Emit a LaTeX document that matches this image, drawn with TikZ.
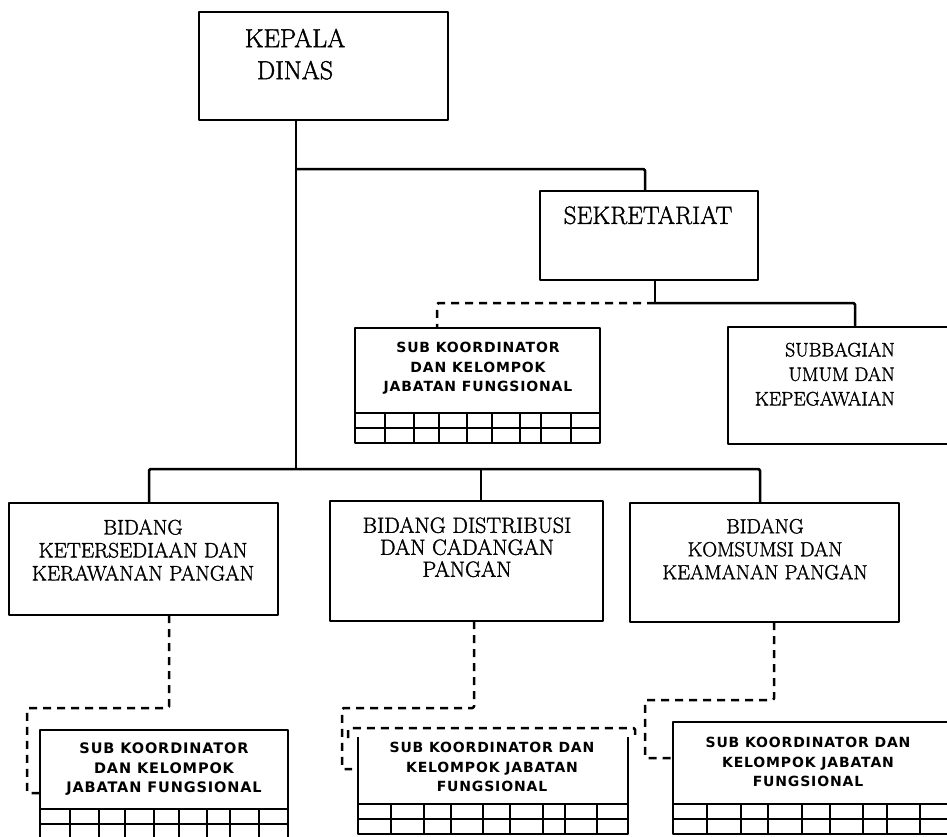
\documentclass[tikz,border=0pt]{standalone}
\usepackage{fontspec}
\newfontfamily\subfont[LetterSpace=6]{DejaVu Sans}
\newfontfamily\mainf[FakeBold=1.5]{Latin Modern Roman}
\usetikzlibrary{calc}
\begin{document}
\begin{tikzpicture}[x=1pt,y=-1pt,line join=round,
  box/.style 2 args={draw,line width=2.6pt,rectangle,inner sep=0pt,outer sep=0pt,anchor=north west,minimum width=#1,minimum height=#2},
  mtext/.style={align=center,inner sep=0pt,text depth=0pt,font=\mainf\fontsize{21}{23}\selectfont},
  stext/.style={align=center,inner sep=0pt,text depth=0pt,font=\subfont\bfseries\fontsize{14}{19.5}\selectfont},
  conn/.style={line width=2.5pt,rounded corners=1.5pt},
  dconn/.style={conn,dash pattern=on 8pt off 6pt},
  gridline/.style={line width=2.4pt}]
\useasboundingbox (0,0) rectangle (947,836);

% boxes and texts
\node[box={249}{108}] (kep) at (199,12) {};
\node[mtext,font=\mainf\fontsize{26}{32}\selectfont] (kept) at (295,54) {KEPALA\\DINAS};
\node[box={218}{89}] (sek) at (540,191) {};
\node[mtext,font=\mainf\fontsize{25}{26}\selectfont] (sekt) at (648,215) {SEKRETARIAT};
\node[box={245}{115}] (sk1) at (355,328) {};
\node[stext] (sk1t) at (478,367) {SUB KOORDINATOR\\DAN KELOMPOK\\JABATAN FUNGSIONAL};
\node[box={232}{117}] (sb) at (728,327) {};
\node[mtext,align=right,anchor=east,font=\mainf\fontsize{19.5}{24.5}\selectfont] (sbt) at (895,374) {SUBBAGIAN\\UMUM DAN\\KEPEGAWAIAN};
\node[box={269}{112}] (b1) at (9,503) {};
\node[mtext] (b1t) at (143,550) {BIDANG\\KETERSEDIAAN DAN\\KERAWANAN PANGAN};
\node[box={273}{120}] (b2) at (330,501) {};
\node[mtext,font=\mainf\fontsize{22}{22}\selectfont] (b2t) at (467,547) {BIDANG DISTRIBUSI\\DAN CADANGAN\\PANGAN};
\node[box={269}{119}] (b3) at (630,503) {};
\node[mtext,font=\mainf\fontsize{20.5}{23}\selectfont] (b3t) at (765,549) {BIDANG\\KOMSUMSI DAN\\KEAMANAN PANGAN};
\node[box={248}{115}] (lb) at (40,730) {};
\node[stext,font=\subfont\bfseries\fontsize{14.5}{19.5}\selectfont] (lbt) at (164,768) {SUB KOORDINATOR\\DAN KELOMPOK\\JABATAN FUNGSIONAL};
\node[inner sep=0pt,outer sep=0pt,minimum width=270pt,minimum height=97pt,anchor=north west] (mb) at (358,737) {};
\draw[line width=2.6pt] (mb.north west) |- (mb.south east) -- (mb.north east);
\node[stext] (mbt) at (492,767) {SUB KOORDINATOR DAN\\KELOMPOK JABATAN\\FUNGSIONAL};
\node[box={287}{112}] (rb) at (673,722) {};
\node[stext] (rbt) at (808,762) {SUB KOORDINATOR DAN\\KELOMPOK JABATAN\\FUNGSIONAL};

% grids
\foreach \yy in {413,428} \draw[gridline] (355,\yy) -- (600,\yy);
\foreach \xx in {385,414,439,467,492,520,541,571} \draw[gridline] (\xx,413) -- (\xx,443);
\foreach \yy in {809,824} \draw[gridline] (40,\yy) -- (288,\yy);
\foreach \xx in {70,99,125,154,179,207,230,259} \draw[gridline] (\xx,809) -- (\xx,845);
\foreach \yy in {804,819} \draw[gridline] (358,\yy) -- (628,\yy);
\foreach \xx in {391,424,451,483,510,543,565,597} \draw[gridline] (\xx,804) -- (\xx,834);
\foreach \yy in {804,819} \draw[gridline] (673,\yy) -- (960,\yy);
\foreach \xx in {707,741,768,802,830,863,887,920} \draw[gridline] (\xx,804) -- (\xx,834);

% junctions
\coordinate (jS) at (296,169);
\coordinate (busM) at (296,469);
\coordinate (busL) at (149,469);
\coordinate (busR) at (760,469);
\coordinate (jSek) at (655,303);
\coordinate (d1) at (27,708);
\coordinate (d2) at (342,708);
\coordinate (d2end) at (352,769);
\coordinate (d3) at (645,700);

% connectors
\draw[conn] (kep.south -| jS) -- (busM);
\draw[conn] (jS) -| ($(sek.north west)+(105,0)$);
\draw[conn] (b1.north -| busL) -- (busL) -- (busR) -- (b3.north -| busR);
\draw[conn] ($(b2.north west)+(151,0)$) coordinate (b2in) -- (b2in |- busM);
\draw[conn] ($(sek.south west)+(115,0)$) -- (jSek);
\draw[dconn] (jSek) -| ($(sk1.north west)+(82,0)$);
\draw[conn] (jSek) -| ($(sb.north west)+(127,0)$);
\draw[dconn] ($(b1.south west)+(160,0)$) |- (d1) |- ($(lb.north west)+(0,63)$);
\draw[dconn] ($(b2.south west)+(144,0)$) |- (d2) |- (d2end);
\draw[dconn] ($(mb.north west)+(-10,1)$) -- ++(0,-10) -| ($(mb.north east)+(7,1)$);
\draw[dconn] ($(b3.south west)+(144,0)$) |- (d3) |- ($(rb.north west)+(0,36)$);
\end{tikzpicture}
\end{document}
